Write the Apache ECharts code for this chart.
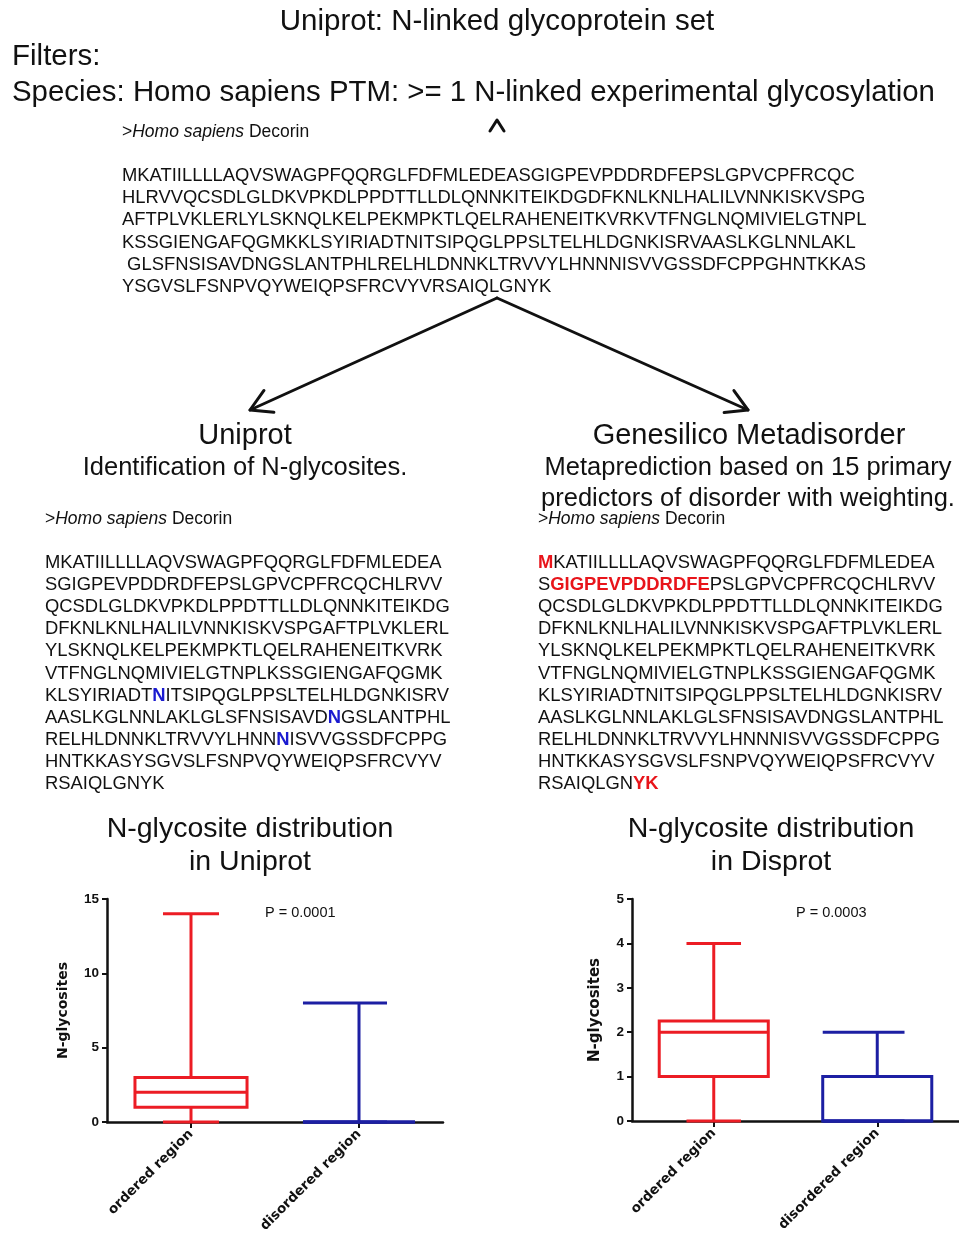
<!DOCTYPE html>
<html>
<head>
<meta charset="utf-8">
<script src="https://cdn.jsdelivr.net/npm/echarts@6/dist/echarts.min.js"></script>
<style>
html,body{margin:0;padding:0;background:#fff;}
#chart{width:959px;height:1243px;}
</style>
</head>
<body>
<div id="chart"></div>
<script>
// ---------- DATA ----------
const categories = ['ordered region', 'disordered region'];
// box stats: [min, Q1, median, Q3, max]
const uniprotOrdered = [0, 1, 2, 3, 14];
const uniprotDisordered = [0, 0, 0, 0, 8];
const disprotOrdered = [0, 1, 2, 2.25, 4];
const disprotDisordered = [0, 0, 0, 1, 2];
const uniprotTicks = [0, 5, 10, 15];
const disprotTicks = [0, 1, 2, 3, 4, 5];
const pUniprot = 'P = 0.0001';
const pDisprot = 'P = 0.0003';

const headerLines = [
  'Uniprot: N-linked glycoprotein set',
  'Filters:',
  'Species: Homo sapiens PTM: >= 1 N-linked experimental glycosylation'
];
const seqHeader = '>{i|Homo sapiens} Decorin';
const seqTop = [
  'MKATIILLLLAQVSWAGPFQQRGLFDFMLEDEASGIGPEVPDDRDFEPSLGPVCPFRCQC',
  'HLRVVQCSDLGLDKVPKDLPPDTTLLDLQNNKITEIKDGDFKNLKNLHALILVNNKISKVSPG',
  'AFTPLVKLERLYLSKNQLKELPEKMPKTLQELRAHENEITKVRKVTFNGLNQMIVIELGTNPL',
  'KSSGIENGAFQGMKKLSYIRIADTNITSIPQGLPPSLTELHLDGNKISRVAASLKGLNNLAKL',
  ' GLSFNSISAVDNGSLANTPHLRELHLDNNKLTRVVYLHNNNISVVGSSDFCPPGHNTKKAS',
  'YSGVSLFSNPVQYWEIQPSFRCVYVRSAIQLGNYK'
];
const seqLeft = [
  'MKATIILLLLAQVSWAGPFQQRGLFDFMLEDEA',
  'SGIGPEVPDDRDFEPSLGPVCPFRCQCHLRVV',
  'QCSDLGLDKVPKDLPPDTTLLDLQNNKITEIKDG',
  'DFKNLKNLHALILVNNKISKVSPGAFTPLVKLERL',
  'YLSKNQLKELPEKMPKTLQELRAHENEITKVRK',
  'VTFNGLNQMIVIELGTNPLKSSGIENGAFQGMK',
  'KLSYIRIADT{n|N}ITSIPQGLPPSLTELHLDGNKISRV',
  'AASLKGLNNLAKLGLSFNSISAVD{n|N}GSLANTPHL',
  'RELHLDNNKLTRVVYLHNN{n|N}ISVVGSSDFCPPG',
  'HNTKKASYSGVSLFSNPVQYWEIQPSFRCVYV',
  'RSAIQLGNYK'
];
const seqRight = [
  '{r|M}KATIILLLLAQVSWAGPFQQRGLFDFMLEDEA',
  'S{r|GIGPEVPDDRDFE}PSLGPVCPFRCQCHLRVV',
  'QCSDLGLDKVPKDLPPDTTLLDLQNNKITEIKDG',
  'DFKNLKNLHALILVNNKISKVSPGAFTPLVKLERL',
  'YLSKNQLKELPEKMPKTLQELRAHENEITKVRK',
  'VTFNGLNQMIVIELGTNPLKSSGIENGAFQGMK',
  'KLSYIRIADTNITSIPQGLPPSLTELHLDGNKISRV',
  'AASLKGLNNLAKLGLSFNSISAVDNGSLANTPHL',
  'RELHLDNNKLTRVVYLHNNNISVVGSSDFCPPG',
  'HNTKKASYSGVSLFSNPVQYWEIQPSFRCVYV',
  'RSAIQLGN{r|YK}'
];
const leftTitle = ['Uniprot', 'Identification of N-glycosites.'];
const rightTitle = ['Genesilico Metadisorder', 'Metaprediction based on 15 primary', 'predictors of disorder with weighting.'];
const chartTitleL = ['N-glycosite distribution', 'in Uniprot'];
const chartTitleR = ['N-glycosite distribution', 'in Disprot'];
const yName = 'N-glycosites';

// ---------- STYLE ----------
const FONT = '"Liberation Sans", Arial, Helvetica, sans-serif';
const RED = '#ec1c24';
const BLUE = '#1c1fa3';
const TXT = '#111';

const graphics = [];
function txt(x, y, text, size, opts) {
  opts = opts || {};
  graphics.push({
    type: 'text', x: x, y: y, z: 10,
    style: Object.assign({
      text: text, fontSize: size, fontFamily: FONT, fill: TXT,
      align: opts.align || 'left', verticalAlign: 'middle',
      fontWeight: opts.weight || 'normal',
      rich: Object.assign({
        i: {fontStyle: 'italic', fontSize: size, fontFamily: FONT, fill: TXT},
        n: {fontWeight: 'bold', fontSize: size, fontFamily: FONT, fill: '#1a1ad0'},
        r: {fontWeight: 'bold', fontSize: size, fontFamily: FONT, fill: '#e8141a'}
      }, opts.rich || {})
    }, opts.style || {})
  });
}
function line(pts, w) {
  graphics.push({type: 'polyline', z: 10, shape: {points: pts}, style: {stroke: '#111', lineWidth: w || 3, fill: null, lineCap: 'round', lineJoin: 'round'}});
}
function arrow(x1, y1, x2, y2) {
  line([[x1, y1], [x2, y2]], 3);
  const a = Math.atan2(y2 - y1, x2 - x1);
  const L = 24, s = Math.PI / 6;
  line([[x2 - L * Math.cos(a - s), y2 - L * Math.sin(a - s)], [x2, y2], [x2 - L * Math.cos(a + s), y2 - L * Math.sin(a + s)]], 3);
}

// header
txt(497, 22, headerLines[0], 29.5, {align: 'center'});
txt(12, 57, headerLines[1], 29.5);
txt(12, 93, headerLines[2], 29.4);
line([[490, 131], [497, 120], [504, 131]], 3);
txt(122, 132, seqHeader, 17.5);
seqTop.forEach((s, k) => txt(122, 176 + k * 22.2, s, 18.4));
// arrows
arrow(497, 298, 250, 410);
arrow(497, 298, 748, 410);
// middle titles
txt(245, 436, leftTitle[0], 29, {align: 'center'});
txt(245, 468, leftTitle[1], 25.5, {align: 'center'});
txt(749, 436, rightTitle[0], 29, {align: 'center'});
txt(748, 468, rightTitle[1], 25.5, {align: 'center'});
txt(748, 499, rightTitle[2], 25.5, {align: 'center'});
// sequences
txt(45, 519, seqHeader, 17.5);
seqLeft.forEach((s, k) => txt(45, 563 + k * 22.1, s, 18.4));
txt(538, 519, seqHeader, 17.5);
seqRight.forEach((s, k) => txt(538, 563 + k * 22.1, s, 18.4));
// chart titles
txt(250, 829, chartTitleL[0], 28.5, {align: 'center'});
txt(250, 862, chartTitleL[1], 28.5, {align: 'center'});
txt(771, 829, chartTitleR[0], 28.5, {align: 'center'});
txt(771, 862, chartTitleR[1], 28.5, {align: 'center'});
txt(265, 913, pUniprot, 14.5);
txt(796, 913, pDisprot, 14.5);

// ---------- BOX RENDER ----------
function makeRender(color, blueCap) {
  return function (params, api) {
    const cat = api.value(0);
    const v = [1, 2, 3, 4, 5].map(i => api.value(i));
    const band = api.size([1, 0])[0];
    const bw = band * 0.667;
    const x = api.coord([cat, 0])[0];
    const y = val => api.coord([cat, val])[1];
    const capL = blueCap ? x - bw / 2 : x - bw / 4;
    const capR = x + bw / 4;
    const st = {stroke: color, lineWidth: 3, fill: null};
    const ch = [];
    ch.push({type: 'line', shape: {x1: x, y1: y(v[3]), x2: x, y2: y(v[4])}, style: st});
    ch.push({type: 'line', shape: {x1: x, y1: y(v[0]), x2: x, y2: y(v[1])}, style: st});
    ch.push({type: 'line', shape: {x1: capL, y1: y(v[4]), x2: capR, y2: y(v[4])}, style: st});
    ch.push({type: 'line', shape: {x1: capL, y1: y(v[0]), x2: capR, y2: y(v[0])}, style: st});
    ch.push({type: 'polygon', shape: {points: [[x - bw / 2, y(v[1])], [x + bw / 2, y(v[1])], [x + bw / 2, y(v[3])], [x - bw / 2, y(v[3])]]}, style: st});
    ch.push({type: 'line', shape: {x1: x - bw / 2, y1: y(v[2]), x2: x + bw / 2, y2: y(v[2])}, style: st});
    return {type: 'group', children: ch};
  };
}
function boxSeries(idx, catIdx, stats, color, blue) {
  return {
    type: 'custom', xAxisIndex: idx, yAxisIndex: idx, z: 5, clip: false,
    renderItem: makeRender(color, blue),
    encode: {x: 0, y: [1, 2, 3, 4, 5]},
    data: [[catIdx].concat(stats)]
  };
}

const axisLineStyle = {color: '#111', width: 2.5};
function xAxis(idx) {
  return {
    type: 'category', gridIndex: idx, data: categories,
    axisLine: {lineStyle: axisLineStyle},
    axisTick: {show: true, alignWithLabel: true, length: 6, lineStyle: {color: '#111', width: 2}},
    axisLabel: {rotate: 45, margin: 10, color: TXT, fontFamily: '"DejaVu Sans", sans-serif', fontWeight: 'bold', fontSize: 13.5, interval: 0},
    splitLine: {show: false}
  };
}
function yAxis(idx, max, interval, gap, nameSize) {
  return {
    type: 'value', gridIndex: idx, min: 0, max: max, interval: interval,
    name: yName, nameLocation: 'middle', nameGap: gap,
    nameTextStyle: {color: TXT, fontFamily: '"DejaVu Sans", sans-serif', fontWeight: 'bold', fontSize: nameSize},
    axisLine: {show: true, lineStyle: axisLineStyle},
    axisTick: {show: true, length: 5, lineStyle: {color: '#111', width: 2}},
    axisLabel: {color: TXT, fontFamily: FONT, fontWeight: 'bold', fontSize: 13.5, margin: 8},
    splitLine: {show: false}
  };
}

const chart = echarts.init(document.getElementById('chart'), null, {renderer: 'canvas'});
chart.setOption({
  backgroundColor: '#fff',
  animation: false,
  grid: [
    {left: 107, top: 899, width: 336, height: 223},
    {left: 632, top: 899, width: 334, height: 222}
  ],
  xAxis: [xAxis(0), xAxis(1)],
  yAxis: [yAxis(0, uniprotTicks[uniprotTicks.length - 1], uniprotTicks[1] - uniprotTicks[0], 37, 14),
          yAxis(1, disprotTicks[disprotTicks.length - 1], disprotTicks[1] - disprotTicks[0], 29, 15)],
  series: [
    boxSeries(0, 0, uniprotOrdered, RED, false),
    boxSeries(0, 1, uniprotDisordered, BLUE, true),
    boxSeries(1, 0, disprotOrdered, RED, false),
    boxSeries(1, 1, disprotDisordered, BLUE, true)
  ],
  graphic: graphics
});
</script>
</body>
</html>
